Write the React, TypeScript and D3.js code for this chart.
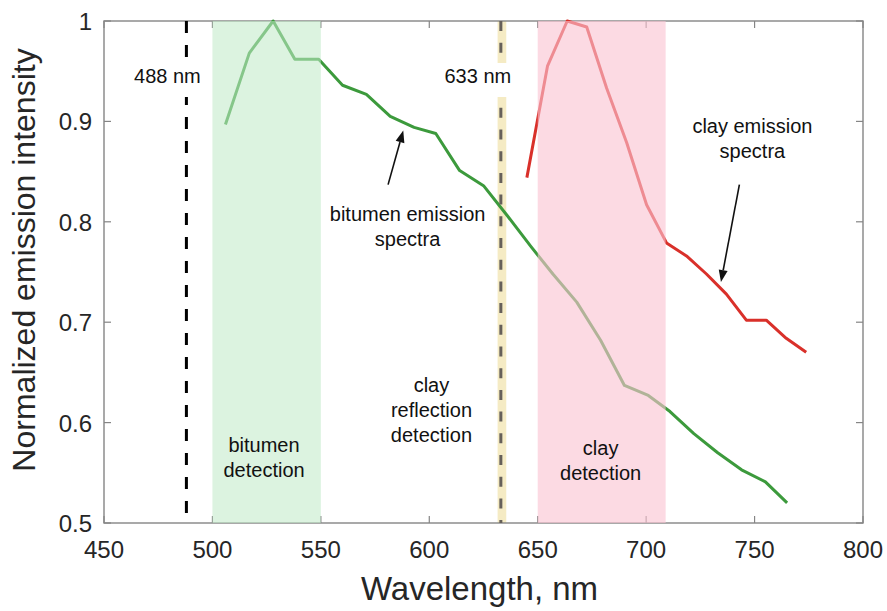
import { useEffect, useRef } from 'react'
import * as d3 from 'd3'

// bitumen emission spectrum (nm, normalized)
const bitumenWl = [506, 517, 528, 538, 549, 560, 571, 582, 593, 603, 614, 625, 636, 647, 657, 668, 679, 690, 701, 711, 722, 733, 744, 755, 765]
const bitumenVal = [0.897, 0.968, 1.0, 0.962, 0.962, 0.936, 0.927, 0.905, 0.894, 0.888, 0.851, 0.836, 0.806, 0.775, 0.748, 0.72, 0.682, 0.637, 0.627, 0.611, 0.589, 0.57, 0.553, 0.541, 0.52]

// clay emission spectrum
const clayWl = [645, 654.5, 663.6, 672.6, 681.8, 691, 700.2, 709.4, 718.6, 727.8, 737, 746.2, 755.4, 764.6, 773.8]
const clayVal = [0.844, 0.955, 1.0, 0.994, 0.933, 0.879, 0.817, 0.779, 0.766, 0.748, 0.728, 0.702, 0.702, 0.684, 0.67]

const xTicks = [450, 500, 550, 600, 650, 700, 750, 800]
const yTicks = [0.5, 0.6, 0.7, 0.8, 0.9, 1]
const yTickLabels = ['0.5', '0.6', '0.7', '0.8', '0.9', '1']

const bitumenBand = [500, 550]
const clayBand = [650, 709]
const laserBand = [631.5, 635.5]
const laserLines = [488, 633]

const W = 887
const H = 611
const FONT = '"Liberation Sans", Arial, Helvetica, sans-serif'

export default function App() {
  const svgRef = useRef<SVGSVGElement>(null)

  useEffect(() => {
    if (!svgRef.current) return
    const svg = d3.select(svgRef.current)
    svg.selectAll('*').remove()

    const margin = { top: 21, right: 24, bottom: 88, left: 104 }
    const width = W - margin.left - margin.right
    const height = H - margin.top - margin.bottom

    const x = d3.scaleLinear().domain([450, 800]).range([0, width])
    const y = d3.scaleLinear().domain([0.5, 1]).range([height, 0])

    const g = svg.append('g').attr('transform', `translate(${margin.left},${margin.top})`)

    // laser band at 633 nm
    g.append('rect')
      .attr('x', x(laserBand[0])).attr('width', x(laserBand[1]) - x(laserBand[0]))
      .attr('y', 0).attr('height', height)
      .attr('fill', '#f5ebc4')

    // axes box + ticks
    const axisColor = '#858585'
    g.append('rect')
      .attr('x', 0).attr('y', 0).attr('width', width).attr('height', height)
      .attr('fill', 'none').attr('stroke', axisColor).attr('stroke-width', 1.4)

    xTicks.forEach((t) => {
      g.append('line').attr('x1', x(t)).attr('x2', x(t)).attr('y1', height).attr('y2', height - 7)
        .attr('stroke', axisColor).attr('stroke-width', 1.2)
      g.append('line').attr('x1', x(t)).attr('x2', x(t)).attr('y1', 0).attr('y2', 7)
        .attr('stroke', axisColor).attr('stroke-width', 1.2)
      g.append('text')
        .attr('x', x(t)).attr('y', height + 35)
        .attr('text-anchor', 'middle').attr('font-size', 24).attr('fill', '#262626')
        .attr('font-family', FONT)
        .text(t)
    })

    yTicks.forEach((t, i) => {
      g.append('line').attr('x1', 0).attr('x2', 7).attr('y1', y(t)).attr('y2', y(t))
        .attr('stroke', axisColor).attr('stroke-width', 1.2)
      g.append('line').attr('x1', width).attr('x2', width - 7).attr('y1', y(t)).attr('y2', y(t))
        .attr('stroke', axisColor).attr('stroke-width', 1.2)
      g.append('text')
        .attr('x', -12).attr('y', y(t) + 9)
        .attr('text-anchor', 'end').attr('font-size', 24).attr('fill', '#262626')
        .attr('font-family', FONT)
        .text(yTickLabels[i])
    })

    // spectra
    const line = d3.line<[number, number]>()
      .x((d) => x(d[0]))
      .y((d) => y(d[1]))

    g.append('path')
      .datum(bitumenWl.map((w, i) => [w, bitumenVal[i]] as [number, number]))
      .attr('d', line)
      .attr('fill', 'none').attr('stroke', '#3c9a3c').attr('stroke-width', 3)
      .attr('stroke-linejoin', 'round')

    g.append('path')
      .datum(clayWl.map((w, i) => [w, clayVal[i]] as [number, number]))
      .attr('d', line)
      .attr('fill', 'none').attr('stroke', '#d9302a').attr('stroke-width', 3)
      .attr('stroke-linejoin', 'round')

    // detection windows, drawn over the spectra (translucent)
    g.append('rect')
      .attr('x', x(bitumenBand[0])).attr('width', x(bitumenBand[1]) - x(bitumenBand[0]))
      .attr('y', 0).attr('height', height)
      .attr('fill', 'rgb(192,234,200)').attr('opacity', 0.56)

    g.append('rect')
      .attr('x', x(clayBand[0])).attr('width', x(clayBand[1]) - x(clayBand[0]))
      .attr('y', 0).attr('height', height)
      .attr('fill', 'rgb(250,195,210)').attr('opacity', 0.62)

    // laser lines
    g.append('line')
      .attr('x1', x(laserLines[0])).attr('x2', x(laserLines[0]))
      .attr('y1', 0).attr('y2', height)
      .attr('stroke', '#000').attr('stroke-width', 3).attr('stroke-dasharray', '12,12')
    g.append('line')
      .attr('x1', x(laserLines[1])).attr('x2', x(laserLines[1]))
      .attr('y1', 0).attr('y2', height)
      .attr('stroke', '#66605a').attr('stroke-width', 3).attr('stroke-dasharray', '10,11.7')

    // laser labels with white backing
    const laserLabel = (cx: number, txt: string) => {
      const t = g.append('text')
        .attr('x', cx).attr('y', 62)
        .attr('text-anchor', 'middle').attr('font-size', 20).attr('fill', '#111')
        .attr('font-family', FONT)
        .text(txt)
      const bb = (t.node() as SVGTextElement).getBBox()
      g.insert('rect', () => t.node())
        .attr('x', bb.x - 4).attr('y', 42).attr('width', bb.width + 8).attr('height', 34)
        .attr('fill', '#fff')
    }
    laserLabel(x(488) - 19, '488 nm')
    laserLabel(x(633) - 23, '633 nm')

    // annotations
    const multi = (cx: number, y0: number, lines: string[]) => {
      lines.forEach((s, i) => {
        g.append('text')
          .attr('x', cx).attr('y', y0 + i * 25)
          .attr('text-anchor', 'middle').attr('font-size', 20).attr('fill', '#111')
          .attr('font-family', FONT)
          .text(s)
      })
    }
    multi(x(590), 200, ['bitumen emission', 'spectra'])
    multi(x(749), 112, ['clay emission', 'spectra'])
    multi(x(601), 371, ['clay', 'reflection', 'detection'])
    multi(x(523.8), 431, ['bitumen', 'detection'])
    multi(x(679), 434, ['clay', 'detection'])

    // arrows
    const arrow = (x1: number, y1: number, x2: number, y2: number) => {
      const ang = Math.atan2(y2 - y1, x2 - x1)
      const len = 12
      const half = 4.5
      const bx = x2 - len * Math.cos(ang)
      const by = y2 - len * Math.sin(ang)
      g.append('line')
        .attr('x1', x1).attr('y1', y1).attr('x2', bx).attr('y2', by)
        .attr('stroke', '#111').attr('stroke-width', 1.6)
      g.append('path')
        .attr('d', `M${x2},${y2}L${bx - half * Math.sin(ang)},${by + half * Math.cos(ang)}L${bx + half * Math.sin(ang)},${by - half * Math.cos(ang)}Z`)
        .attr('fill', '#111')
    }
    arrow(x(581), y(0.837), x(588), y(0.891))
    arrow(x(743), y(0.837), x(734.5), y(0.74))

    // axis titles
    svg.append('text')
      .attr('x', margin.left + width / 2 - 4).attr('y', 600)
      .attr('text-anchor', 'middle').attr('font-size', 33).attr('fill', '#262626')
      .attr('font-family', FONT)
      .text('Wavelength, nm')

    svg.append('text')
      .attr('transform', `translate(35,260) rotate(-90)`)
      .attr('text-anchor', 'middle').attr('font-size', 32).attr('fill', '#262626')
      .attr('font-family', FONT)
      .text('Normalized emission intensity')
  }, [])

  return (
    <svg
      ref={svgRef}
      width={W}
      height={H}
      style={{ position: 'absolute', left: 0, top: 0, background: '#fff' }}
    />
  )
}
